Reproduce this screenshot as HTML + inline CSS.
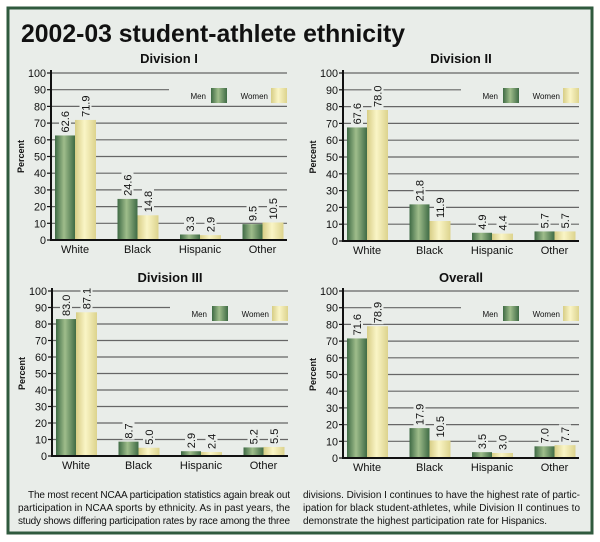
<!DOCTYPE html>
<html><head><meta charset="utf-8"><style>
html,body{margin:0;padding:0;background:#fff;}
body{width:600px;height:542px;position:relative;overflow:hidden;font-family:"Liberation Sans",sans-serif;}
svg{position:absolute;left:0;top:0;}
</style></head><body>
<svg id="chart" width="600" height="542" viewBox="0 0 600 542" xmlns="http://www.w3.org/2000/svg">
<defs>
<linearGradient id="gMen" x1="0" x2="1" y1="0" y2="0">
<stop offset="0" stop-color="#3e6a44"/><stop offset="0.45" stop-color="#9fbd8b"/><stop offset="1" stop-color="#3f6b45"/></linearGradient>
<linearGradient id="gWomen" x1="0" x2="1" y1="0" y2="0">
<stop offset="0" stop-color="#d7cd85"/><stop offset="0.45" stop-color="#faf5c6"/><stop offset="1" stop-color="#dcd38d"/></linearGradient>
</defs>
<rect x="8" y="8" width="584" height="525" fill="#e9ede9" stroke="#2f5a3e" stroke-width="3"/>
<text x="21" y="42" font-size="25" font-weight="bold" fill="#111" textLength="384" lengthAdjust="spacingAndGlyphs">2002-03 student-athlete ethnicity</text>
<g id="panels"></g>
<text font-size="10" fill="#111" lengthAdjust="spacingAndGlyphs">
<tspan x="28" y="498" textLength="262">The most recent NCAA participation statistics again break out</tspan>
<tspan x="18" y="511" textLength="272">participation in NCAA sports by ethnicity. As in past years, the</tspan>
<tspan x="18" y="524" textLength="272">study shows differing participation rates by race among the three</tspan>
</text>
<text font-size="10" fill="#111">
<tspan x="303" y="498" textLength="277">divisions. Division I continues to have the highest rate of partic-</tspan>
<tspan x="303" y="511" textLength="277">ipation for black student-athletes, while Division II continues to</tspan>
<tspan x="303" y="524" textLength="244">demonstrate the highest participation rate for Hispanics.</tspan>
</text>
</svg>
<script>
const categories = ["White","Black","Hispanic","Other"];
const panelTitles = ["Division I","Division II","Division III","Overall"];
const menValues = [[62.6,24.6,3.3,9.5],[67.6,21.8,4.9,5.7],[83.0,8.7,2.9,5.2],[71.6,17.9,3.5,7.0]];
const womenValues = [[71.9,14.8,2.9,10.5],[78.0,11.9,4.4,5.7],[87.1,5.0,2.4,5.5],[78.9,10.5,3.0,7.7]];
const yTicks = [0,10,20,30,40,50,60,70,80,90,100];

const NS = "http://www.w3.org/2000/svg";
const root = document.getElementById("panels");
const layout = [
  {ax:51, zero:240, top:73, titleY:63},
  {ax:343, zero:241, top:73, titleY:63},
  {ax:52, zero:456, top:291, titleY:282},
  {ax:343, zero:458, top:291, titleY:282}
];
function mk(tag, attrs, parent, txt){
  const e = document.createElementNS(NS, tag);
  for (const k in attrs) e.setAttribute(k, attrs[k]);
  if (txt !== undefined) e.textContent = txt;
  parent.appendChild(e);
  return e;
}
layout.forEach((L, p) => {
  const W = 236;
  const y = v => L.zero - (v/100)*(L.zero - L.top);
  const x = i => L.ax + 24 + i*62.5;
  const g = mk("g", {}, root);
  
  
  const t = mk("text", {x: L.ax + W/2, y: L.titleY, "text-anchor":"middle", "font-size":"13", "font-weight":"bold", fill:"#111"}, g, panelTitles[p]);
  
  
  yTicks.forEach(v => {
    if (v > 0) {
      const gl = mk("line", {x1:L.ax, x2:L.ax+W, y1:y(v), y2:y(v), stroke:"#666", "stroke-width":"1.2"}, g);
      
      
    }
    const tk = mk("line", {x1:L.ax-4, x2:L.ax, y1:y(v), y2:y(v), stroke:"#111", "stroke-width":"1.2"}, g);
    
    
    const tl = mk("text", {x:L.ax-5, y:y(v)+4, "text-anchor":"end", "font-size":"11", fill:"#111", textLength: v===100?18:(v===0?6:12), lengthAdjust:"spacingAndGlyphs"}, g, String(v));
    
    
  });
  const yt = mk("text", {x:0, y:0, transform:`translate(${L.ax-27},${(L.zero+L.top)/2}) rotate(-90)`, "text-anchor":"middle", "font-size":"9", "font-weight":"bold", fill:"#111"}, g, "Percent");
  
  
  // legend
  const lb = mk("rect", {x:L.ax+118, y:L.top+13, width:120, height:19, fill:"#e9ede9"}, g);
  
  
  const lm = mk("text", {x:L.ax+155, y:L.top+26, "text-anchor":"end", "font-size":"8", fill:"#111"}, g, "Men");
  
  
  const lmb = mk("rect", {x:L.ax+160, y:L.top+15, width:16, height:15, fill:"url(#gMen)"}, g);
  
  
  const lw = mk("text", {x:L.ax+217, y:L.top+26, "text-anchor":"end", "font-size":"8", fill:"#111"}, g, "Women");
  
  
  const lwb = mk("rect", {x:L.ax+220, y:L.top+15, width:16, height:15, fill:"url(#gWomen)"}, g);
  
  
  categories.forEach((c, i) => {
    const cx = x(i);
    const mv = menValues[p][i], wv = womenValues[p][i];
    const bm = mk("rect", {x:cx-20, y:y(mv), width:20, height:L.zero-y(mv), fill:"url(#gMen)"}, g);
    
    
    const bw = mk("rect", {x:cx, y:y(wv), width:21, height:L.zero-y(wv), fill:"url(#gWomen)"}, g);
    
    
    [[mv, cx-10],[wv, cx+10.5]].forEach(([v, bx], k) => {
      const s = v.toFixed(1);
      const len = s.length * 5.6 + 2;
      const bg = mk("rect", {x:bx-6, y:y(v)-2-len, width:12, height:len, fill:"#e9ede9"}, g);
      
      
      const vl = mk("text", {x:0, y:0, transform:`translate(${bx+4},${y(v)-3}) rotate(-90)`, "font-size":"11", fill:"#111"}, g, s);
      
      
    });
    const cl = mk("text", {x:cx, y:L.zero+13, "text-anchor":"middle", "font-size":"11", fill:"#111"}, g, c);
    
    
  });
  const ax = mk("line", {x1:L.ax, x2:L.ax, y1:L.top-3, y2:L.zero+1, stroke:"#111", "stroke-width":"2"}, g);
  
  
  const bx = mk("line", {x1:L.ax, x2:L.ax+W, y1:L.zero, y2:L.zero, stroke:"#111", "stroke-width":"2"}, g);
  
  
});
</script>
</body></html>
